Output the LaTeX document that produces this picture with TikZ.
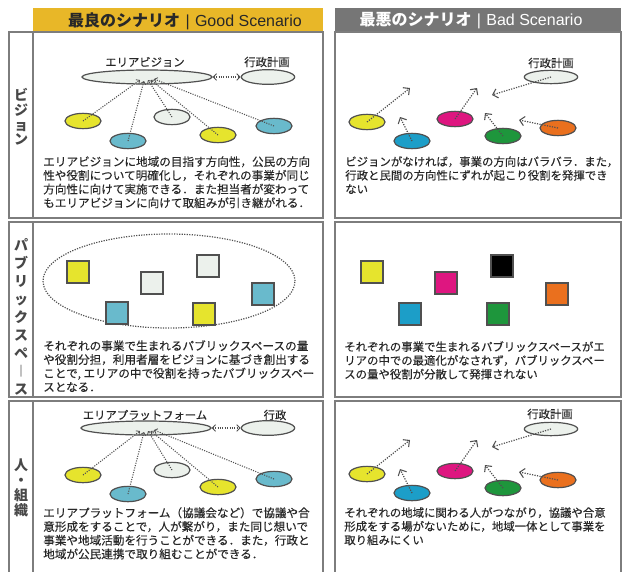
\documentclass[tikz,border=0pt]{standalone}
\usepackage{fontspec}
\newfontfamily\jp{Noto Sans CJK JP}
\newfontfamily\jpt[FakeBold=0.25]{Noto Sans CJK JP}
\newfontfamily\hv{Liberation Sans}
\usetikzlibrary{arrows.meta,shapes.geometric}
\definecolor{hdrgold}{RGB}{232,183,40}
\definecolor{hdrgray}{RGB}{118,118,118}
\definecolor{panelgray}{RGB}{125,125,125}
\definecolor{txt}{RGB}{40,40,40}
\definecolor{lineg}{RGB}{80,80,80}
\definecolor{cy}{RGB}{230,228,45}
\definecolor{cb}{RGB}{105,186,204}
\definecolor{cp}{RGB}{236,241,236}
\definecolor{bcy}{RGB}{28,158,200}
\definecolor{bmag}{RGB}{222,22,128}
\definecolor{bgrn}{RGB}{30,150,60}
\definecolor{bor}{RGB}{234,112,30}
\begin{document}
\begin{tikzpicture}[x=0.75pt,y=-0.75pt,
 panel/.style={draw=panelgray,line width=1.1pt},
 oval/.style={ellipse,draw=lineg,line width=0.9pt,minimum width=27pt,minimum height=11.5pt,inner sep=0pt},
 sq/.style={draw=lineg,line width=0.8pt,minimum size=16.5pt,inner sep=0pt},
 hub/.style={densely dotted,draw=lineg,line width=0.8pt,-{Straight Barb[length=2pt,width=4pt,line width=0.6pt]}},
 link/.style={densely dotted,draw=lineg,line width=0.8pt,{Straight Barb[length=2.5pt,width=5pt,line width=0.7pt]}-{Straight Barb[length=2.5pt,width=5pt,line width=0.7pt]}},
 drift/.style={densely dotted,draw=lineg,line width=0.9pt,-{Straight Barb[length=3.5pt,width=7pt,line width=0.8pt]}},
 body/.style={font=\jpt\fontsize{8.7}{10.3}\selectfont,text=txt,align=left,anchor=north west,inner sep=0pt},
 bodyr/.style={font=\jpt\fontsize{8.55}{10.3}\selectfont,text=txt,align=left,anchor=north west,inner sep=0pt},
 lbl/.style={font=\jpt\fontsize{8.5}{10}\selectfont,text=txt,inner sep=0pt},
 vlab/.style={font=\jp\bfseries\fontsize{10.5}{#1}\selectfont,text=txt!85,align=center,inner sep=0pt},
 hdr/.style={font=\fontsize{12}{14}\selectfont,inner sep=0pt}]
\useasboundingbox (0,0) rectangle (624,571);
\begin{scope}
\clip (0,0) rectangle (624,571);
% headers
\fill[hdrgold] (33,8) rectangle (323,32);
\fill[hdrgray] (335,8) rectangle (621,32);
\node[hdr,text=txt] (hgood) at (185,21) {{\jp\bfseries 最良のシナリオ}\hspace{4pt}{\hv|}\hspace{4pt}{\hv Good Scenario}};
\node[hdr,text=white] (hbad) at (471,21) {{\jp\bfseries 最悪のシナリオ}\hspace{4pt}{\hv|}\hspace{4pt}{\hv Bad Scenario}};
% frames
\draw[panel] (9,32) rectangle (323,218);
\draw[panel] (33,32) -- (33,218);
\draw[panel] (9,222) rectangle (323,397);
\draw[panel] (33,222) -- (33,397);
\draw[panel] (9,401) rectangle (323,590);
\draw[panel] (33,401) -- (33,590);
\draw[panel] (335,32) rectangle (621,218);
\draw[panel] (335,222) rectangle (621,397);
\draw[panel] (335,401) rectangle (621,590);
% vertical labels
\node[vlab=10.9] (lv1) at (21,117) {ビ\\ジ\\ョ\\ン};
\node[vlab=13.5] (lv2) at (21,317) {パ\\ブ\\リ\\ッ\\ク\\ス\\ペ\\︱\\ス};
\node[vlab=11.25] (lv3) at (21,488) {人\\・\\組\\織};

% ===== Row 1 good =====
\node[lbl] (r1avl) at (145,62) {エリアビジョン};
\node[oval,minimum width=97.5pt,minimum height=10.5pt,fill=cp] (r1av) at (147,77) {};
\node[lbl] (r1gpl) at (267,62) {行政計画};
\node[oval,minimum width=40pt,minimum height=11pt,fill=cp] (r1gp) at (268,77) {};
\draw[link] (r1av.east) -- (r1gp.west);
\node[oval,fill=cy] (r1a) at (83,121) {};
\node[oval,fill=cb] (r1b) at (128,141) {};
\node[oval,fill=cp] (r1c) at (172,117) {};
\node[oval,fill=cy] (r1d) at (218,135) {};
\node[oval,fill=cb] (r1e) at (274,126) {};
\coordinate (r1h1) at (140,80);
\coordinate (r1h2) at (144,81);
\coordinate (r1h3) at (148,80);
\coordinate (r1h4) at (151,80);
\coordinate (r1h5) at (154,79);
\draw[hub] (r1a.center) -- (r1h1);
\draw[hub] (r1b.center) -- (r1h2);
\draw[hub] (r1c.center) -- (r1h3);
\draw[hub] (r1d.center) -- (r1h4);
\draw[hub] (r1e.center) -- (r1h5);
\node[body] (r1gt) at (43,156) {エリアビジョンに地域の目指す方向性，公民の方向\\性や役割について明確化し，それぞれの事業が同じ\\方向性に向けて実施できる．また担当者が変わって\\もエリアビジョンに向けて取組みが引き継がれる．};

% ===== Row 1 bad =====
\node[lbl] (r1bgl) at (551,63) {行政計画};
\node[oval,minimum width=40pt,minimum height=10pt,fill=cp] (r1bg) at (551,77) {};
\node[oval,fill=cy] (r1ba) at (367,122) {};
\node[oval,fill=bcy] (r1bb) at (412,141) {};
\node[oval,fill=bmag] (r1bc) at (455,119) {};
\node[oval,fill=bgrn] (r1bd) at (503,136) {};
\node[oval,fill=bor] (r1be) at (558,128) {};
\coordinate (r1t1) at (410,88);
\coordinate (r1t2) at (400,117);
\coordinate (r1t3) at (477,88);
\coordinate (r1t4) at (485,113);
\coordinate (r1t5) at (519,120);
\coordinate (r1t6) at (492,95);
\draw[drift] (r1ba.center) -- (r1t1);
\draw[drift] (r1bb.center) -- (r1t2);
\draw[drift] (r1bc.center) -- (r1t3);
\draw[drift] (r1bd.center) -- (r1t4);
\draw[drift] (r1be.center) -- (r1t5);
\draw[drift] (r1bg.center) -- (r1t6);
\node[bodyr] (r1bt) at (345,156) {ビジョンがなければ，事業の方向はバラバラ．また，\\行政と民間の方向性にずれが起こり役割を発揮でき\\ない};

% ===== Row 2 good =====
\node[ellipse,draw=lineg,densely dotted,line width=0.9pt,minimum width=189pt,minimum height=70.5pt] (r2ps) at (169,281) {};
\node[sq,fill=cy] (r2a) at (78,272) {};
\node[sq,fill=cp] (r2b) at (152,283) {};
\node[sq,fill=cp] (r2c) at (208,266) {};
\node[sq,fill=cb] (r2d) at (263,294) {};
\node[sq,fill=cb] (r2e) at (117,313) {};
\node[sq,fill=cy] (r2f) at (204,314) {};
\node[body] (r2gt) at (43,340) {それぞれの事業で生まれるパブリックスペースの量\\や役割分担，利用者層をビジョンに基づき創出する\\ことで, エリアの中で役割を持ったパブリックスペー\\スとなる．};

% ===== Row 2 bad =====
\node[sq,fill=cy] (r2ba) at (372,272) {};
\node[sq,fill=bmag] (r2bb) at (446,283) {};
\node[sq,fill=black] (r2bc) at (502,266) {};
\node[sq,fill=bor] (r2bd) at (557,294) {};
\node[sq,fill=bcy] (r2be) at (410,314) {};
\node[sq,fill=bgrn] (r2bf) at (498,314) {};
\node[bodyr] (r2bt) at (344,341) {それぞれの事業で生まれるパブリックスペースがエ\\リアの中での最適化がなされず，パブリックスペー\\スの量や役割が分散して発揮されない};

% ===== Row 3 good =====
\node[lbl] (r3avl) at (145,415) {エリアプラットフォーム};
\node[oval,minimum width=97.5pt,minimum height=10.5pt,fill=cp] (r3av) at (146,428) {};
\node[lbl] (r3gpl) at (275,415) {行政};
\node[oval,minimum width=40pt,minimum height=11pt,fill=cp] (r3gp) at (268,428) {};
\draw[link] (r3av.east) -- (r3gp.west);
\node[oval,fill=cy] (r3a) at (83,475) {};
\node[oval,fill=cb] (r3b) at (128,494) {};
\node[oval,fill=cp] (r3c) at (172,470) {};
\node[oval,fill=cy] (r3d) at (218,487) {};
\node[oval,fill=cb] (r3e) at (274,479) {};
\coordinate (r3h1) at (140,431);
\coordinate (r3h2) at (144,432);
\coordinate (r3h3) at (148,431);
\coordinate (r3h4) at (151,431);
\coordinate (r3h5) at (154,430);
\draw[hub] (r3a.center) -- (r3h1);
\draw[hub] (r3b.center) -- (r3h2);
\draw[hub] (r3c.center) -- (r3h3);
\draw[hub] (r3d.center) -- (r3h4);
\draw[hub] (r3e.center) -- (r3h5);
\node[body] (r3gt) at (43,507) {エリアプラットフォーム（協議会など）で協議や合\\意形成をすることで，人が繋がり，また同じ想いで\\事業や地域活動を行うことができる．また，行政と\\地域が公民連携で取り組むことができる．};

% ===== Row 3 bad =====
\node[lbl] (r3bgl) at (550,414) {行政計画};
\node[oval,minimum width=40pt,minimum height=10pt,fill=cp] (r3bg) at (551,429) {};
\node[oval,fill=cy] (r3ba) at (367,474) {};
\node[oval,fill=bcy] (r3bb) at (412,493) {};
\node[oval,fill=bmag] (r3bc) at (455,471) {};
\node[oval,fill=bgrn] (r3bd) at (503,488) {};
\node[oval,fill=bor] (r3be) at (558,480) {};
\coordinate (r3t1) at (410,440);
\coordinate (r3t2) at (400,469);
\coordinate (r3t3) at (477,440);
\coordinate (r3t4) at (485,465);
\coordinate (r3t5) at (519,472);
\coordinate (r3t6) at (492,447);
\draw[drift] (r3ba.center) -- (r3t1);
\draw[drift] (r3bb.center) -- (r3t2);
\draw[drift] (r3bc.center) -- (r3t3);
\draw[drift] (r3bd.center) -- (r3t4);
\draw[drift] (r3be.center) -- (r3t5);
\draw[drift] (r3bg.center) -- (r3t6);
\node[bodyr] (r3bt) at (344,507) {それぞれの地域に関わる人がつながり，協議や合意\\形成をする場がないために，地域一体として事業を\\取り組みにくい};
\end{scope}
\end{tikzpicture}
\end{document}
